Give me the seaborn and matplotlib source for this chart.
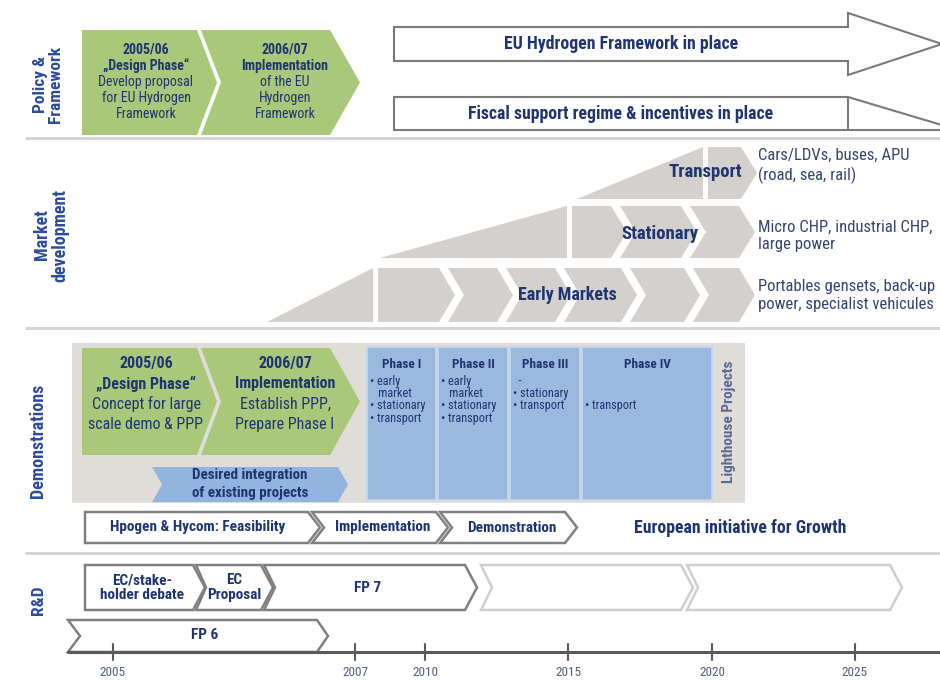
import matplotlib
matplotlib.use("Agg")
import matplotlib.pyplot as plt
from matplotlib.patches import Polygon, Rectangle
from matplotlib import font_manager as fm
import seaborn as sns
import pandas as pd

# ---------------- data (texts / categories) ----------------
ROW_LABELS = ["Policy &\nFramework", "Market\ndevelopment", "Demonstrations", "R&D"]
POLICY_PHASES = [
    ["2005/06", "\u201eDesign Phase\u201c", "Develop proposal", "for EU Hydrogen", "Framework"],
    ["2006/07", "Implementation", "of the EU", "Hydrogen", "Framework"],
]
POLICY_ARROWS = ["EU Hydrogen Framework in place", "Fiscal support regime & incentives in place"]
MARKETS = ["Transport", "Stationary", "Early Markets"]
MARKET_DESC = ["Cars/LDVs, buses, APU\n(road, sea, rail)",
               "Micro CHP, industrial CHP,\nlarge power",
               "Portables gensets, back-up\npower, specialist vehicules"]
DEMO_PREP = [
    ["2005/06", "\u201eDesign Phase\u201c", "Concept for large", "scale demo & PPP"],
    ["2006/07", "Implementation", "Establish PPP,", "Prepare Phase I"],
]
DEMO_INTEGRATION = ["Desired integration", "of existing projects"]
PHASES = ["Phase I", "Phase II", "Phase III", "Phase IV"]
PHASE_BULLETS = [
    ["\u2022 early", "   market", "\u2022 stationary", "\u2022 transport"],
    ["\u2022 early", "   market", "\u2022 stationary", "\u2022 transport"],
    ["  -", "\u2022 stationary", "\u2022 transport"],
    ["", "", "\u2022 transport"],
]
LIGHTHOUSE = "Lighthouse Projects"
DEMO_STEPS = ["Hpogen & Hycom: Feasibility", "Implementation", "Demonstration"]
GROWTH = "European initiative for Growth"
RD_STEPS = ["EC/stake-\nholder debate", "EC\nProposal", "FP 7", "", ""]
FP6 = "FP 6"
YEARS = [2005, 2007, 2010, 2015, 2020, 2025]

# ---------------- layout (pixel geometry, styles) ----------------
YEAR_X = [113, 355, 425, 568, 712, 855]

sns.set_theme(style="white")


def pick_font(cands):
    for f in cands:
        try:
            fm.findfont(fm.FontProperties(family=f), fallback_to_default=False)
            return f
        except Exception:
            pass
    return "DejaVu Sans"


FONT = pick_font(["Liberation Sans Narrow", "Roboto Condensed", "Open Sans Condensed", "Liberation Sans"])
plt.rcParams["font.family"] = [FONT, "DejaVu Sans"]
S = 1.0 if "Narrow" in FONT or "Condensed" in FONT else 0.82

NAVY = "#1f3572"
LABEL_BLUE = "#2c4c9c"
GREEN = "#a9c87a"
GRAY = "#d4d0cd"
DEMO_BG = "#e0dcd8"
PHASE_BLUE = "#9bb9df"
OUT_DARK = "#808080"
OUT_LIGHT = "#cfcfcf"

fig = plt.figure(figsize=(9.4, 6.81), dpi=100)
ax = fig.add_axes([0, 0, 1, 1])


def chev(L, R, y0, y1, ld=0, rd=0, **kw):
    ym = (y0 + y1) / 2
    pts = [(L, y0), (R - rd, y0), (R, ym), (R - rd, y1), (L, y1)]
    if ld:
        pts.append((L + ld, ym))
    ax.add_patch(Polygon(pts, closed=True, joinstyle="miter", **kw))


def lines_block(x, yc, lines, nbold, size, spacing, color=NAVY, ha="center"):
    n = len(lines)
    y = yc - spacing * (n - 1) / 2
    for i, t in enumerate(lines):
        ax.text(x, y + i * spacing, t, ha=ha, va="center", fontsize=size * S,
                fontweight="bold" if i < nbold else "normal", color=color)


# ---------------- separators & row labels ----------------
for y in [138, 328, 553]:
    ax.plot([25, 940], [y, y], color="#d2d2d2", lw=2, solid_capstyle="butt")

for lab, (x, y), fs in zip(ROW_LABELS, [(48, 84), (51, 235), (38, 441), (38, 600)],
                           [12.5, 13, 13, 12.5]):
    ax.text(x, y, lab, rotation=90, ha="center", va="center", fontsize=fs * S,
            fontweight="bold", color=LABEL_BLUE, linespacing=1.0)

# ---------------- Policy & Framework ----------------
chev(82, 217, 30, 135, rd=20, fc=GREEN, ec="none")
chev(201, 360, 30, 135, ld=20, rd=30, fc=GREEN, ec="none")
lines_block(146, 82, POLICY_PHASES[0], 2, 10, 16)
lines_block(285, 82, POLICY_PHASES[1], 2, 10, 16)

ax.add_patch(Polygon([(394, 27), (848, 27), (848, 13), (942, 44), (848, 75), (848, 61), (394, 61)],
                     closed=True, fc="white", ec="#7a7a7a", lw=1.5))
ax.text(621, 44, POLICY_ARROWS[0], ha="center", va="center", fontsize=12.8 * S,
        fontweight="bold", color=NAVY)
ax.add_patch(Rectangle((394, 97), 454, 33, fc="white", ec="#7a7a7a", lw=1.5))
ax.plot([848, 945], [97, 126], color="#7a7a7a", lw=1.5)
ax.plot([848, 945], [130, 130], color="#7a7a7a", lw=1.5)
ax.text(621, 114, POLICY_ARROWS[1], ha="center", va="center", fontsize=12.8 * S,
        fontweight="bold", color=NAVY)

# ---------------- Market development ----------------
bands = [
    dict(y0=147, y1=199, w=(577, 703), tips=[757]),
    dict(y0=206, y1=258, w=(380, 567), tips=[627, 697, 755]),
    dict(y0=268, y1=322, w=(267, 373), tips=[455, 513, 571, 637, 700, 755]),
]
for b in bands:
    y0, y1 = b["y0"], b["y1"]
    w0, w1 = b["w"]
    ax.add_patch(Polygon([(w0, y1), (w1, y0), (w1, y1)], closed=True, fc=GRAY, ec="none"))
    rd, gap = 16, 9
    for k, tip in enumerate(b["tips"]):
        if k == 0:
            chev(w1 + 5, tip, y0, y1, rd=rd, fc=GRAY, ec="none")
        else:
            chev(b["tips"][k - 1] - rd + gap, tip, y0, y1, ld=rd, rd=rd, fc=GRAY, ec="none")

for lab, (x, y), fs in zip(MARKETS, [(705, 172), (660, 234), (567, 295)], [13.5, 13.5, 13]):
    ax.text(x, y, lab, ha="center", va="center", fontsize=fs * S, fontweight="bold", color=NAVY)
for d, y in zip(MARKET_DESC, [166, 236, 296]):
    ax.text(758, y, d, ha="left", va="center", fontsize=12 * S, color="#33466f", linespacing=1.25)

# ---------------- Demonstrations ----------------
ax.add_patch(Rectangle((72, 343), 673, 160, fc=DEMO_BG, ec="none"))
chev(82, 217, 348, 455, rd=20, fc=GREEN, ec="none")
chev(201, 360, 348, 455, ld=20, rd=30, fc=GREEN, ec="none")
lines_block(146, 394, DEMO_PREP[0], 2, 11.5, 20.5)
lines_block(285, 394, DEMO_PREP[1], 2, 11.5, 20.5)

chev(152, 348, 467, 502, ld=10, rd=10, fc="#93b4de", ec="none")
lines_block(250, 484, DEMO_INTEGRATION, 2, 10.8, 17.5)

phase_x = [(367, 436), (438, 508), (510, 580), (582, 712)]
for name, bul, (x0, x1) in zip(PHASES, PHASE_BULLETS, phase_x):
    ax.add_patch(Rectangle((x0, 347), x1 - x0, 153, fc=PHASE_BLUE, ec="#c5d6ec", lw=1.2))
    ax.text((x0 + x1) / 2, 365, name, ha="center", va="center", fontsize=9.5 * S,
            fontweight="bold", color=NAVY)
    for i, t in enumerate(bul):
        ax.text(x0 + 3, 381 + i * 12.5, t, ha="left", va="center", fontsize=8.8 * S, color=NAVY)
ax.text(729, 422, LIGHTHOUSE, rotation=90, ha="center", va="center", fontsize=11 * S,
        fontweight="bold", color="#5a6a96")

demo_chev = [(85, 320, 0), (312, 448, 12), (440, 577, 12)]
demo_tx = [198, 383, 512]
for (L, R, ld), lab, tx in zip(demo_chev, DEMO_STEPS, demo_tx):
    chev(L, R, 512, 543, ld=ld, rd=12, fc="white", ec=OUT_DARK, lw=1.8)
    ax.text(tx, 527.5, lab, ha="center", va="center", fontsize=11 * S,
            fontweight="bold", color=NAVY)
ax.text(740, 528, GROWTH, ha="center", va="center", fontsize=12.8 * S, fontweight="bold", color=NAVY)

# ---------------- R&D ----------------
rd_chev = [(85, 205, 0, OUT_DARK), (196, 273, 10, OUT_DARK), (264, 477, 11, OUT_DARK),
           (481, 693, 11, OUT_LIGHT), (687, 902, 11, OUT_LIGHT)]
rd_tx = [142, 234, 368, 0, 0]
for (L, R, ld, ec), lab, tx in zip(rd_chev, RD_STEPS, rd_tx):
    chev(L, R, 565, 610, ld=ld, rd=12, fc="white", ec=ec, lw=1.8)
    if lab:
        ax.text(tx, 587.5, lab, ha="center", va="center", fontsize=11 * S,
                fontweight="bold", color=NAVY, linespacing=1.05)

chev(68, 328, 620, 652, ld=12, rd=11, fc="white", ec=OUT_DARK, lw=1.8)
ax.text(205, 635, FP6, ha="center", va="center", fontsize=11 * S, fontweight="bold", color=NAVY)

# timeline axis
tl = pd.DataFrame({"x": [68, 940], "y": [652, 652]})
sns.lineplot(data=tl, x="x", y="y", ax=ax, color="#5a5a5a", lw=2.2)
for yr, x in zip(YEARS, YEAR_X):
    ax.plot([x, x], [644, 660], color="#5a5a5a", lw=1.5)
    ax.text(x, 672, str(yr), ha="center", va="center", fontsize=9.5 * S, color="#55607e")

ax.set_xlim(0, 940)
ax.set_ylim(681, 0)
ax.set_xlabel("")
ax.set_ylabel("")
ax.axis("off")
fig.savefig("out.png", dpi=100)
